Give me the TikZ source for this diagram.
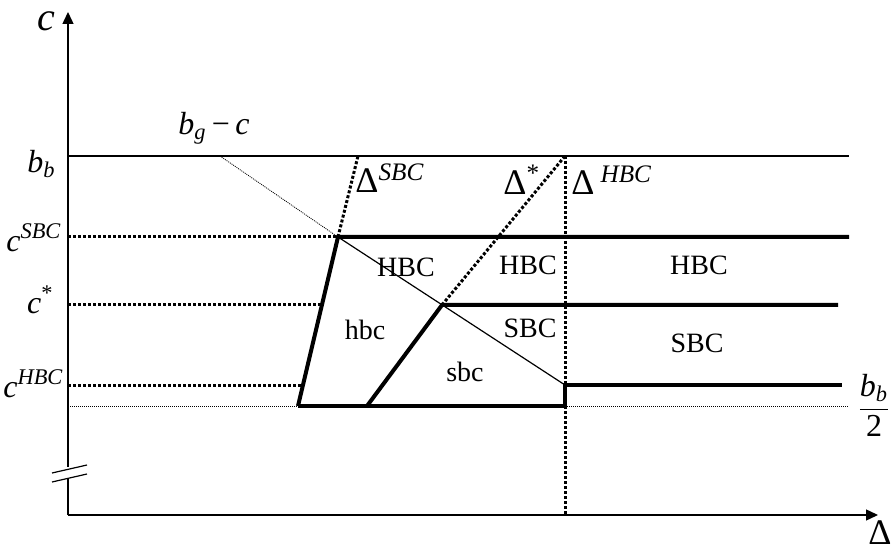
\documentclass[tikz,border=0pt]{standalone}
\usepackage{fontspec}
\setmainfont{Liberation Serif}
\usetikzlibrary{arrows.meta}

\begin{document}
\begin{tikzpicture}[x=0.5pt,y=-0.5pt,>={Triangle[length=6pt,width=5.5pt]},
  lab/.style={font=\fontsize{16}{18}\selectfont,inner sep=0pt},
  biglab/.style={font=\fontsize{18}{20}\selectfont,inner sep=0pt},
  region/.style={font=\fontsize{14}{16}\selectfont,inner sep=0pt},
  bound/.style={line width=2pt},
  dotline/.style={line width=1.5pt,dash pattern=on 1.5pt off 1pt},
  finedot/.style={line width=0.4pt,dash pattern=on 0.5pt off 0.5pt}]
  \useasboundingbox (0,0) rectangle (893,550);
  % points of the diagram
  \coordinate (O) at (68,515);
  \coordinate (A) at (338,237);
  \coordinate (B) at (442,305);
  \coordinate (C) at (565,385);
  \coordinate (D) at (298,406);
  \coordinate (E) at (367,406);
  \coordinate (F) at (565,406);
  \coordinate (G) at (220,156);
  \coordinate (H) at (358,156);
  \coordinate (K) at (565,156);
  % axes
  \draw[line width=0.7pt] (O)--(68,478);
  \draw[->,line width=0.7pt] (68,467)--(68,12);
  \draw[->,line width=0.7pt] (O)--(878,515);
  \draw[line width=0.6pt] (52,473)--(87,465) (52,482)--(87,474);
  \node[font=\fontsize{20}{22}\selectfont,inner sep=0pt,anchor=base] (cax) at (46,31) {\textit{c}};
  \node[biglab] (dax) at (880,533) {Δ};
  % levels
  \draw[line width=0.6pt] (68,156)--(849,156);
  \draw[dotline] (68,237)--(A);
  \draw[dotline] (68,305)--(322,305);
  \draw[dotline] (68,385)--(302,385);
  \draw[finedot] (68,406)--(D);
  \draw[finedot] (F)--(848,406);
  \node[lab,anchor=east] (bb) at (56,164) {\textit{b}\textsubscript{\textit{b}}};
  \node[lab,anchor=east] (cs) at (62,238) {\textit{c}\textsuperscript{\textit{SBC}}};
  \node[lab,anchor=east] (cst) at (54,300) {\textit{c}\textsuperscript{*}};
  \node[lab,anchor=east] (ch) at (64,384) {\textit{c}\textsuperscript{\textit{HBC}}};
  \node[lab] (half) at (874,409) {\begin{tabular}{@{}c@{}}\textit{b}\textsubscript{\textit{b}}\\[1pt]\hline\rule{0pt}{13pt}2\end{tabular}};
  % boundaries
  \draw[bound] (D)--(A)--(849,237);
  \draw[bound] (E)--(B)--(838,305);
  \draw[bound] (D)--(F)--(C)--(842,385);
  \draw[line width=0.6pt] (A)--(C);
  \draw[finedot] (G)--(A);
  \draw[dotline] (A)--(H);
  \draw[dotline] (B)--(K);
  \draw[dotline] (K)--(565,515);
  \node[lab] (bgc) at (214,128) {\textit{b}\textsubscript{\textit{g}}\,−\,\textit{c}};
  \node[biglab,anchor=west] (dsbc) at (355,178) {Δ\textsuperscript{\textit{SBC}}};
  \node[biglab,anchor=west] (dstar) at (503,180) {Δ\textsuperscript{*}};
  \node[biglab,anchor=west] (dhbc) at (571,180) {Δ\,\textsuperscript{\textit{HBC}}};
  % regions
  \node[region] (r1) at (406,267) {HBC};
  \node[region] (r2) at (528,265) {HBC};
  \node[region] (r3) at (699,265) {HBC};
  \node[region] (r4) at (530,328) {SBC};
  \node[region] (r5) at (697,343) {SBC};
  \node[region] (r6) at (365,330) {hbc};
  \node[region] (r7) at (465,372) {sbc};
\end{tikzpicture}
\end{document}
